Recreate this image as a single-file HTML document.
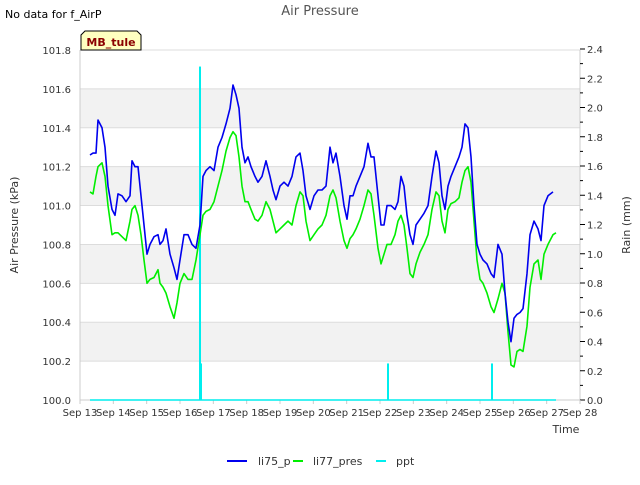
<!DOCTYPE html>
<html><head><meta charset="utf-8"><style>
body{margin:0;background:#fff;font-family:"Liberation Sans","DejaVu Sans",sans-serif}
text{font-family:"DejaVu Sans","Liberation Sans",sans-serif}
</style></head><body>
<svg id="c" width="640" height="480" xmlns="http://www.w3.org/2000/svg">
<text x="5" y="18" font-size="11" fill="#000">No data for f_AirP</text>
<text x="320" y="15" font-size="13" fill="#555" text-anchor="middle">Air Pressure</text>
<g id="plot"></g>
<text transform="translate(18,225) rotate(-90)" font-size="11" fill="#333" text-anchor="middle">Air Pressure (kPa)</text>
<text transform="translate(630,225) rotate(-90)" font-size="11" fill="#333" text-anchor="middle">Rain (mm)</text>
<text x="566" y="433" font-size="11" fill="#333" text-anchor="middle">Time</text>
<g>
<path d="M81,50 L81,35 L85,31 L137,31 L141,35 L141,50 Z" fill="#ffffc0" stroke="#000" stroke-width="1"/>
<text x="111" y="46" font-size="11" font-weight="bold" fill="#8b0000" text-anchor="middle">MB_tule</text></g>
<g>
<g><line x1="227" y1="461" x2="247" y2="461" stroke="#0000ee" stroke-width="2"/><text x="258" y="465" font-size="11" fill="#333">li75_p</text></g>
<g><line x1="293" y1="461" x2="303" y2="461" stroke="#00ee00" stroke-width="2"/><text x="313" y="465" font-size="11" fill="#333">li77_pres</text></g>
<g><line x1="376" y1="461" x2="386" y2="461" stroke="#00eeee" stroke-width="2"/><text x="396" y="465" font-size="11" fill="#333">ppt</text></g>
</g>
</svg>
<script>
const xTickLabels=["Sep 13","Sep 14","Sep 15","Sep 16","Sep 17","Sep 18","Sep 19","Sep 20","Sep 21","Sep 22","Sep 23","Sep 24","Sep 25","Sep 26","Sep 27","Sep 28"];
const yTicks=[100.0,100.2,100.4,100.6,100.8,101.0,101.2,101.4,101.6,101.8];
const y2Ticks=[0,0.2,0.4,0.6,0.8,1.0,1.2,1.4,1.6,1.8,2.0,2.2,2.4];
const days=[.30,.39,.48,.54,.66,.75,.84,.96,1.05,1.14,1.26,1.38,1.50,1.56,1.65,1.74,1.83,1.92,2.01,2.10,2.22,2.34,2.40,2.49,2.58,2.70,2.82,2.91,3.00,3.12,3.24,3.36,3.48,3.60,3.69,3.78,3.90,4.02,4.14,4.26,4.38,4.50,4.59,4.68,4.77,4.86,4.95,5.04,5.13,5.25,5.34,5.46,5.58,5.70,5.79,5.88,6.00,6.12,6.24,6.36,6.48,6.60,6.69,6.78,6.90,7.02,7.14,7.26,7.38,7.50,7.59,7.68,7.80,7.92,8.01,8.10,8.19,8.28,8.40,8.52,8.64,8.73,8.82,8.94,9.03,9.12,9.21,9.33,9.45,9.54,9.63,9.72,9.81,9.90,9.99,10.08,10.20,10.32,10.44,10.56,10.68,10.77,10.86,10.95,11.04,11.13,11.25,11.37,11.46,11.55,11.64,11.73,11.82,11.91,12.00,12.09,12.21,12.33,12.42,12.54,12.66,12.75,12.84,12.93,13.02,13.11,13.20,13.29,13.41,13.50,13.62,13.74,13.83,13.92,14.04,14.19,14.28];
const li75=[101.26,101.27,101.27,101.44,101.40,101.30,101.10,100.98,100.95,101.06,101.05,101.02,101.05,101.23,101.20,101.20,101.05,100.90,100.75,100.80,100.84,100.85,100.80,100.82,100.88,100.75,100.68,100.62,100.72,100.85,100.85,100.80,100.78,100.90,101.15,101.18,101.20,101.18,101.30,101.35,101.42,101.50,101.62,101.57,101.50,101.30,101.22,101.25,101.20,101.15,101.12,101.15,101.23,101.15,101.08,101.03,101.10,101.12,101.10,101.15,101.25,101.27,101.18,101.05,100.98,101.05,101.08,101.08,101.10,101.30,101.22,101.27,101.15,101.00,100.93,101.05,101.05,101.10,101.15,101.20,101.32,101.25,101.25,101.05,100.90,100.90,101.00,101.00,100.98,101.02,101.15,101.10,100.95,100.85,100.80,100.90,100.93,100.96,101.00,101.15,101.28,101.22,101.05,100.98,101.10,101.15,101.20,101.25,101.30,101.42,101.40,101.25,101.00,100.80,100.75,100.72,100.70,100.65,100.63,100.80,100.75,100.55,100.40,100.30,100.42,100.44,100.45,100.47,100.65,100.85,100.92,100.88,100.82,101.00,101.05,101.07];
const li77=[101.07,101.06,101.15,101.20,101.22,101.15,101.00,100.85,100.86,100.86,100.84,100.82,100.92,100.98,101.00,100.95,100.85,100.72,100.60,100.62,100.63,100.67,100.60,100.58,100.55,100.48,100.42,100.50,100.60,100.65,100.62,100.62,100.72,100.85,100.95,100.97,100.98,101.02,101.10,101.18,101.28,101.35,101.38,101.36,101.25,101.10,101.02,101.02,100.98,100.93,100.92,100.95,101.02,100.98,100.92,100.86,100.88,100.90,100.92,100.90,101.00,101.07,101.05,100.92,100.82,100.85,100.88,100.90,100.95,101.05,101.08,101.04,100.92,100.82,100.78,100.83,100.85,100.88,100.93,101.00,101.08,101.06,100.95,100.78,100.70,100.75,100.80,100.80,100.85,100.92,100.95,100.90,100.78,100.65,100.63,100.70,100.76,100.80,100.85,100.98,101.07,101.05,100.92,100.86,100.98,101.01,101.02,101.04,101.12,101.18,101.20,101.12,100.92,100.72,100.62,100.60,100.55,100.48,100.45,100.52,100.60,100.55,100.35,100.18,100.17,100.25,100.26,100.25,100.38,100.58,100.70,100.72,100.62,100.75,100.80,100.85,100.86];
const pptDays=[3.60,3.63,9.24,12.36];
const pptVals=[2.28,0.25,0.25,0.25];
const pptStart=0.30, pptEnd=14.28;

const NS="http://www.w3.org/2000/svg";
const L=80,R=580,T=50,B=400;
const xs=d=>L+(R-L)*d/15;
const ys=v=>B-(v-100)/1.8*(B-T);
const y2=v=>B-v/2.4*(B-T+1);
const plot=document.getElementById('plot');
function mk(tag,attrs){const e=document.createElementNS(NS,tag);for(const k in attrs)e.setAttribute(k,attrs[k]);plot.appendChild(e);return e;}
// bands
for(let i=0;i<yTicks.length-1;i++){ if(i%2===1){
 const e=mk('rect',{x:L,y:ys(yTicks[i+1]),width:R-L,height:ys(yTicks[i])-ys(yTicks[i+1]),fill:'#f2f2f2'});
 
 }}
yTicks.forEach(v=>{
 const g=mk('line',{x1:L,x2:R,y1:ys(v),y2:ys(v),stroke:'#dcdcdc','stroke-width':1});
 
 
 const t=mk('text',{x:71,y:ys(v)+4,'font-size':10,fill:'#333','text-anchor':'end'});t.textContent=v.toFixed(1);
 
 
});
mk('line',{x1:L,x2:L,y1:T,y2:B,stroke:'#ccc'});
mk('line',{x1:R,x2:R,y1:T,y2:B,stroke:'#ccc'});
mk('line',{x1:L,x2:R,y1:B,y2:B,stroke:'#ccc'});
y2Ticks.forEach((v,i)=>{
 mk('line',{x1:R,x2:R+5,y1:y2(v),y2:y2(v),stroke:'#000'});
 if(i<y2Ticks.length-1) mk('line',{x1:R,x2:R+3,y1:y2(v+0.1),y2:y2(v+0.1),stroke:'#000'});
 const t=mk('text',{x:587,y:y2(v)+4,'font-size':10,fill:'#333'});t.textContent=v.toFixed(1);
 
 
});
xTickLabels.forEach((s,i)=>{
 mk('line',{x1:xs(i),x2:xs(i),y1:B,y2:B+4,stroke:'#ccc'});
 const t=mk('text',{x:xs(i),y:416,'font-size':10,fill:'#333','text-anchor':'middle'});t.textContent=s;
 
 
});
// ppt
const base=mk('line',{x1:xs(pptStart),x2:xs(pptEnd),y1:y2(0),y2:y2(0),stroke:'#00eeee','stroke-width':1.5});


pptDays.forEach((d,i)=>{
 const b=mk('rect',{x:xs(d)-1,y:y2(pptVals[i]),width:2,height:y2(0)-y2(pptVals[i]),fill:'#00eeee'});
 
 
});
function line(vals,color,name){
 const p=mk('polyline',{points:days.map((d,i)=>xs(d).toFixed(1)+','+ys(vals[i]).toFixed(1)).join(' '),fill:'none',stroke:color,'stroke-width':1.6,'stroke-linejoin':'round'});
 
 
}
line(li77,'#00ee00','li77-pres-line');
line(li75,'#0000ee','li75-p-line');
</script>
</body></html>
